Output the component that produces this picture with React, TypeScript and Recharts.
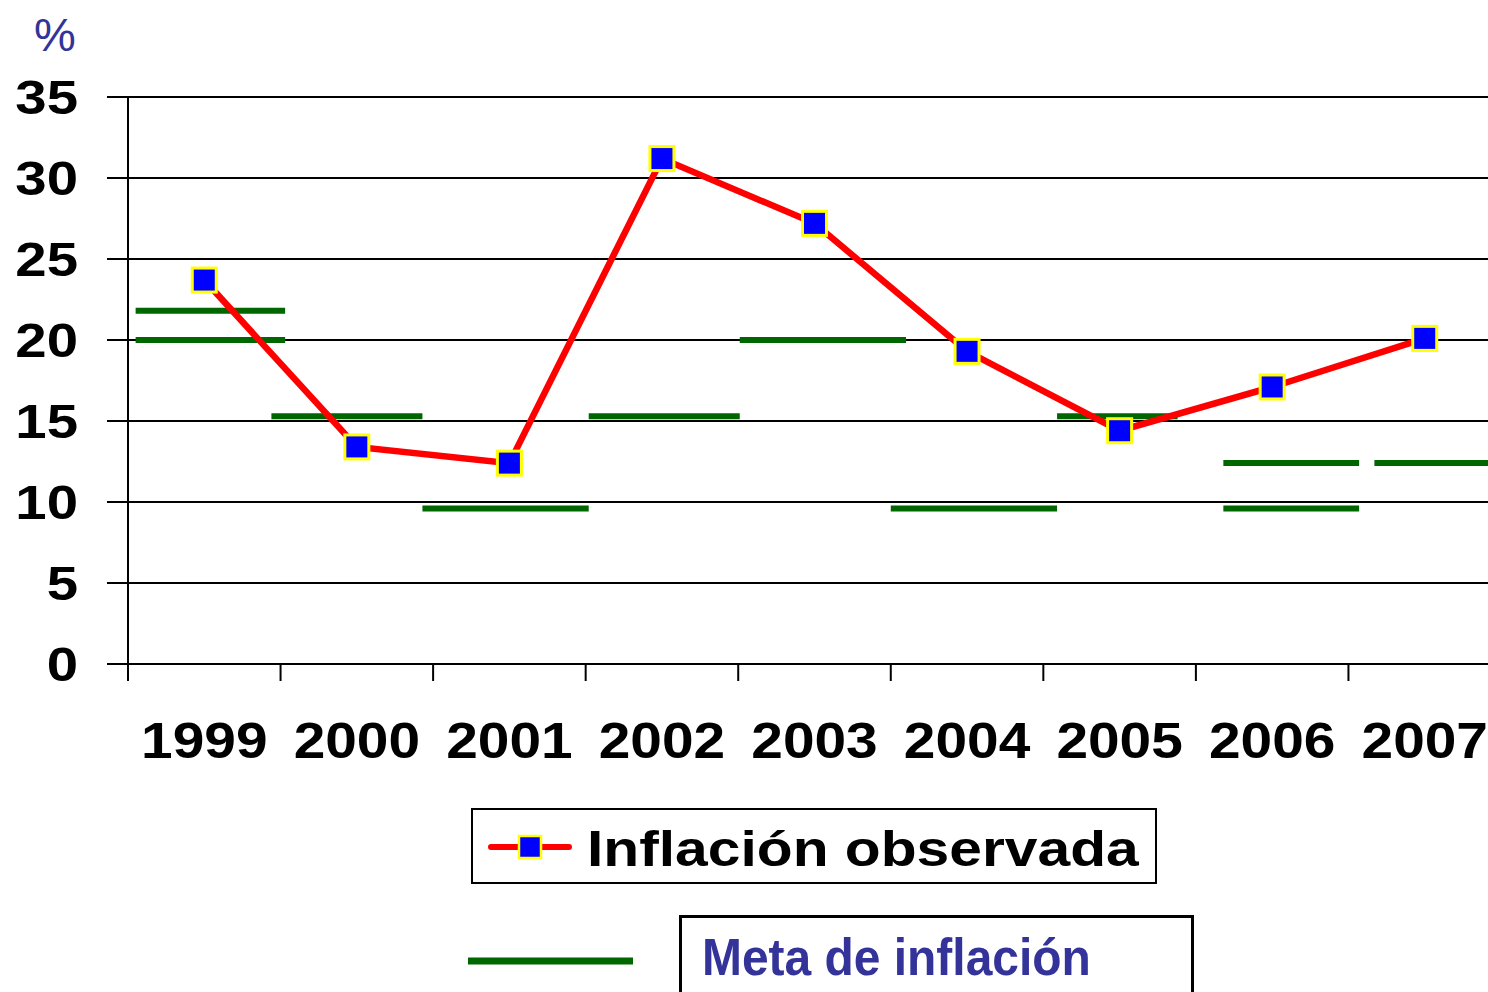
import { LineChart, Line, XAxis, YAxis, CartesianGrid } from 'recharts';

const years = ['1999', '2000', '2001', '2002', '2003', '2004', '2005', '2006', '2007'];
const observed = [23.7, 13.4, 12.4, 31.2, 27.2, 19.3, 14.4, 17.1, 20.1];

// target bands: value and start/end on the category axis (0 = left edge of 1999)
const targetValue = [21.8, 20, 15.3, 9.6, 15.3, 20, 9.6, 15.3, 12.4, 9.6, 12.4];
const targetStart = [0.05, 0.05, 0.94, 1.93, 3.02, 4.01, 5.0, 6.09, 7.18, 7.18, 8.17];
const targetEnd = [1.03, 1.03, 1.93, 3.02, 4.01, 5.1, 6.09, 6.88, 8.07, 8.07, 9.0];

const yTicks = [0, 5, 10, 15, 20, 25, 30, 35];

const observedData = observed.map((v, i) => ({ x: i + 0.5, y: v }));
const targetSegments = targetValue.map((v, i) => [
  { x: targetStart[i], y: v },
  { x: targetEnd[i], y: v }
]);

const FONT = '"Liberation Sans", Arial, Helvetica, sans-serif';
const CHART_W = 1520;
const AXIS_W = 128;
const RIGHT = 19;
const BAND = (CHART_W - AXIS_W - RIGHT) / years.length;

function YearTick(props: any) {
  const { x, y, payload } = props;
  const label = years[payload.value];
  if (!label) return null;
  return (
    <g transform={`translate(${x + BAND / 2},${y + 75}) scale(1.16,1)`}>
      <text x={0} y={0} textAnchor="middle" fontFamily={FONT} fontWeight="bold" fontSize={49} fill="#000">
        {label}
      </text>
    </g>
  );
}

function ValueTick(props: any) {
  const { x, y, payload } = props;
  return (
    <g transform={`translate(${x},${y + 17}) scale(1.15,1)`}>
      <text x={0} y={0} textAnchor="end" fontFamily={FONT} fontWeight="bold" fontSize={49} fill="#000">
        {payload.value}
      </text>
    </g>
  );
}

function SquareDot(props: any) {
  const { cx, cy, index } = props;
  return (
    <rect key={`dot-${index}`} x={cx - 12} y={cy - 12} width={24} height={24} fill="#0000ff" stroke="#ffff00" strokeWidth={3} />
  );
}

export default function App() {
  return (
    <div style={{ position: 'absolute', left: 0, top: 0, width: 1488, height: 992, overflow: 'hidden', background: '#fff' }}>
      <LineChart width={CHART_W} height={780} margin={{ top: 97, right: RIGHT, bottom: 6, left: 0 }}>
        <CartesianGrid vertical={false} stroke="#000" strokeWidth={2} />
        <XAxis
          type="number"
          dataKey="x"
          domain={[0, 9]}
          ticks={[0, 1, 2, 3, 4, 5, 6, 7, 8, 9]}
          interval={0}
          allowDataOverflow
          height={110}
          tickSize={17}
          axisLine={{ stroke: '#000', strokeWidth: 2 }}
          tickLine={{ stroke: '#000', strokeWidth: 2 }}
          tick={<YearTick />}
        />
        <YAxis
          type="number"
          domain={[0, 35]}
          ticks={yTicks}
          interval={0}
          width={AXIS_W}
          tickSize={21}
          tickMargin={29}
          axisLine={{ stroke: '#000', strokeWidth: 2 }}
          tickLine={{ stroke: '#000', strokeWidth: 2 }}
          tick={<ValueTick />}
        />
        {targetSegments.map((seg, i) => (
          <Line
            key={`meta-${i}`}
            data={seg}
            dataKey="y"
            stroke="#006600"
            strokeWidth={6}
            strokeLinecap="butt"
            dot={false}
            activeDot={false}
            isAnimationActive={false}
          />
        ))}
        <Line
          data={observedData}
          dataKey="y"
          stroke="#ff0000"
          strokeWidth={6.5}
          dot={SquareDot}
          activeDot={false}
          isAnimationActive={false}
        />
      </LineChart>

      <svg width={1488} height={992} style={{ position: 'absolute', left: 0, top: 0, pointerEvents: 'none' }}>
        <text x={34} y={51} fontFamily={FONT} fontSize={47} fill="#333399">%</text>

        <rect x={472} y={809} width={684} height={74} fill="#fff" stroke="#000" strokeWidth={2} />
        <line x1={491} y1={847} x2={569} y2={847} stroke="#ff0000" strokeWidth={6} strokeLinecap="round" />
        <rect x={519} y={836} width={22} height={22} fill="#0000ff" stroke="#ffff00" strokeWidth={2.5} />
        <g transform="translate(587,866) scale(1.175,1)">
          <text x={0} y={0} fontFamily={FONT} fontWeight="bold" fontSize={50} fill="#000">Inflación observada</text>
        </g>

        <line x1={468} y1={961} x2={633} y2={961} stroke="#006600" strokeWidth={7} />
        <rect x={680.5} y={916.5} width={512} height={100} fill="#fff" stroke="#000" strokeWidth={3} />
        <g transform="translate(702,975) scale(0.94,1)">
          <text x={0} y={0} fontFamily={FONT} fontWeight="bold" fontSize={51} fill="#333399">
            Meta de inflación
          </text>
        </g>
      </svg>
    </div>
  );
}
